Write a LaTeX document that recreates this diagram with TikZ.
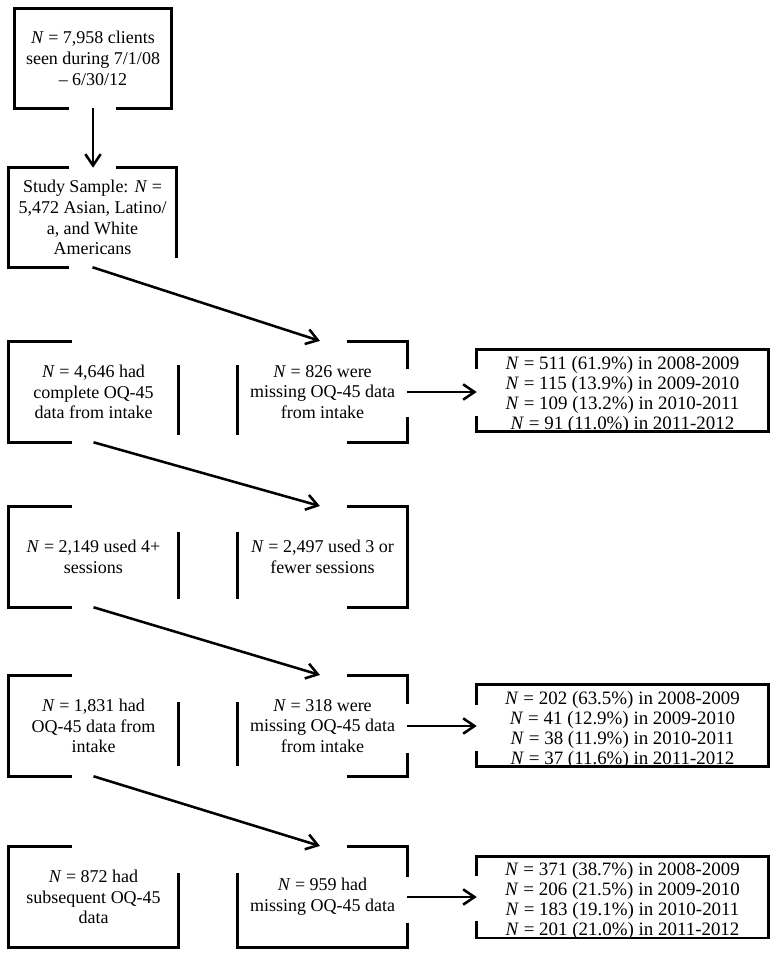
\documentclass[tikz,border=0pt]{standalone}
\usepackage{fontspec}
\setmainfont{Liberation Serif}
\usetikzlibrary{arrows.meta}
\pgfdeclarelayer{background}
\pgfsetlayers{background,main}
\newcommand{\reslines}[4]{\raisebox{-3.6pt}[\height][\depth]{\begin{tabular}{@{}c@{}}#1\\#2\\#3\\#4\end{tabular}}}
\begin{document}
\begin{tikzpicture}[x=0.75pt,y=-0.75pt,
  frame/.style={draw=black,line width=1.9pt},
  eraser/.style={fill=white,draw=none},
  txt/.style={inner sep=0pt,align=center,font=\fontsize{13.5}{15.6}\selectfont},
  mainbox/.style={txt,minimum width=126.75pt,minimum height=75pt},
  resbox/.style={inner sep=0pt,font=\fontsize{14.2}{15}\selectfont,minimum width=218.25pt,minimum height=60.75pt},
  flow/.style={line width=1.9pt,-{Straight Barb[length=8.5pt,width=11.5pt]}}
]
\useasboundingbox (0,0) rectangle (776,957);

% text nodes
\node[txt,minimum width=117pt,minimum height=74.25pt] (b1) at (93,58.5) {\textit{N} = 7,958 clients\\seen during 7/1/08\\– 6/30/12};
\node[txt,minimum width=125.25pt,minimum height=74.25pt] (b2) at (92.5,217.5) {Study Sample: \textit{N} =\\5,472 Asian, Latino/\\a, and White\\Americans};

\node[mainbox] (l3) at (93.5,392) {\textit{N} = 4,646 had\\complete OQ-45\\data from intake};
\node[mainbox] (m3) at (322.5,392) {\textit{N} = 826 were\\missing OQ-45 data\\from intake};
\node[resbox] (r3) at (622.5,390.5) {\reslines{\textit{N} = 511 (61.9\%) in 2008-2009}{\textit{N} = 115 (13.9\%) in 2009-2010}{\textit{N} = 109 (13.2\%) in 2010-2011}{\textit{N} = 91 (11.0\%) in 2011-2012}};

\node[mainbox] (l4) at (93.5,557) {\textit{N} = 2,149 used 4+\\sessions};
\node[mainbox] (m4) at (322.5,557) {\textit{N} = 2,497 used 3 or\\fewer sessions};

\node[mainbox] (l5) at (93.5,726) {\textit{N} = 1,831 had\\OQ-45 data from\\intake};
\node[mainbox] (m5) at (322.5,726) {\textit{N} = 318 were\\missing OQ-45 data\\from intake};
\node[resbox] (r5) at (622.5,725.5) {\reslines{\textit{N} = 202 (63.5\%) in 2008-2009}{\textit{N} = 41 (12.9\%) in 2009-2010}{\textit{N} = 38 (11.9\%) in 2010-2011}{\textit{N} = 37 (11.6\%) in 2011-2012}};

\node[mainbox] (l6) at (93.5,897) {\textit{N} = 872 had\\subsequent OQ-45\\data};
\node[mainbox] (m6) at (322.5,897) {\textit{N} = 959 had\\missing OQ-45 data};
\node[resbox] (r6) at (622.5,897) {\reslines{\textit{N} = 371 (38.7\%) in 2008-2009}{\textit{N} = 206 (21.5\%) in 2009-2010}{\textit{N} = 183 (19.1\%) in 2010-2011}{\textit{N} = 201 (21.0\%) in 2011-2012}};

% frames with their broken parts
\begin{pgfonlayer}{background}
\foreach \n in {b1,b2,l3,m3,r3,l4,m4,l5,m5,r5,l6,m6,r6}
  \draw[frame] (\n.north west) rectangle (\n.south east);
\fill[eraser] (69,104) rectangle (116,113);
\fill[eraser] (69,163) rectangle (116,172);
\fill[eraser] (69,258) rectangle (181,272);
\fill[eraser] (72,338) rectangle (347,365);
\fill[eraser] (72,435) rectangle (347,448);
\fill[eraser] (402,369) rectangle (412,417);
\fill[eraser] (472,369) rectangle (482,416);
\fill[eraser] (72,502) rectangle (347,532);
\fill[eraser] (72,599) rectangle (347,612);
\fill[eraser] (72,670) rectangle (347,702);
\fill[eraser] (72,766) rectangle (347,780);
\fill[eraser] (402,704) rectangle (412,753);
\fill[eraser] (472,705) rectangle (482,751);
\fill[eraser] (72,842) rectangle (347,873);
\fill[eraser] (402,877) rectangle (412,923);
\fill[eraser] (472,876) rectangle (482,921);
\end{pgfonlayer}

% connectors
\draw[flow] (b1.south) -- (b1.south |- b2.north);
\draw[flow,shorten >=2pt] (b2.south) -- (m3.north);
\draw[flow,shorten >=2pt] (l3.south) -- (m4.north);
\draw[flow,shorten >=2pt] (l4.south) -- (m5.north);
\draw[flow,shorten >=2pt] (l5.south) -- (m6.north);
\draw[flow] (m3.east) -- (m3.east -| r3.west);
\draw[flow] (m5.east) -- (m5.east -| r5.west);
\draw[flow] (m6.east) -- (m6.east -| r6.west);
\end{tikzpicture}
\end{document}
